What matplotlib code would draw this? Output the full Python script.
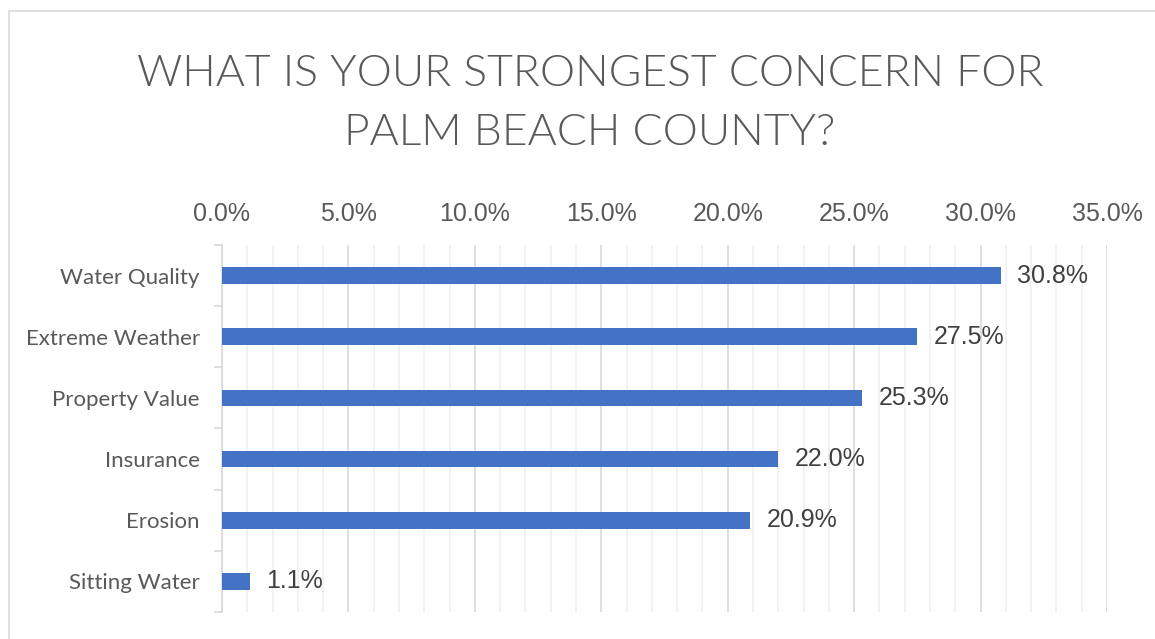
import numpy as np
import matplotlib
matplotlib.use("Agg")
import matplotlib.pyplot as plt
from matplotlib.patches import Rectangle
from matplotlib.ticker import MultipleLocator, FuncFormatter, FixedLocator

# ---- data (top to bottom as shown) ----
categories = ["Water Quality", "Extreme Weather", "Property Value",
              "Insurance", "Erosion", "Sitting Water"]
values = [30.8, 27.5, 25.3, 22.0, 20.9, 1.1]
title = "WHAT IS YOUR STRONGEST CONCERN FOR\nPALM BEACH COUNTY?"

BAR = "#4472C4"
TXT = "#595959"

fig = plt.figure(figsize=(11.55, 6.39), dpi=100)
ax = fig.add_axes([222 / 1155, 1 - 612 / 639, 885 / 1155, 367 / 639])

# outer chart border (runs off the right/bottom edge)
fig.patches.append(Rectangle((9 / 1155, -0.1), 1.2, 1 - 11 / 639 + 0.1,
                             transform=fig.transFigure, fill=False,
                             edgecolor="#d9d9d9", linewidth=1.2))

y = np.arange(len(categories))
ax.barh(y, values, height=0.27, color=BAR, zorder=3)
for yi, v in zip(y, values):
    ax.annotate(f"{v:.1f}%", (v, yi), xytext=(12, 0), textcoords="offset points",
                va="center", ha="left", fontsize=18, color="#404040",
                family="Liberation Sans")

ax.set_xlim(0, 35)
ax.set_ylim(len(categories) - 0.5, -0.5)

ax.xaxis.tick_top()
ax.xaxis.set_major_locator(MultipleLocator(5))
ax.xaxis.set_minor_locator(MultipleLocator(1))
ax.xaxis.set_major_formatter(FuncFormatter(lambda v, p: f"{v:.1f}%"))
ax.tick_params(axis="x", which="both", length=0, pad=14, labelsize=18,
               labelcolor=TXT)
for lab in ax.get_xticklabels():
    lab.set_family("Liberation Sans")
ax.grid(axis="x", which="major", color="#d9d9d9", linewidth=1.2, zorder=0)
ax.grid(axis="x", which="minor", color="#f0f0f0", linewidth=1.2, zorder=0)

ax.set_yticks(y)
ax.set_yticklabels(categories, fontsize=16, color=TXT, family="Lato")
ax.yaxis.set_minor_locator(FixedLocator(np.arange(len(categories) + 1) - 0.5))
ax.tick_params(axis="y", which="major", length=0, pad=16)
ax.tick_params(axis="y", which="minor", length=6, color="#d9d9d9", width=1.2)

for s in ["top", "right", "bottom"]:
    ax.spines[s].set_visible(False)
ax.spines["left"].set_color("#d9d9d9")
ax.spines["left"].set_linewidth(1.2)

fig.text(590 / 1155, 1 - 104 / 639, title, ha="center", va="center",
         fontsize=32, color=TXT, family="Lato", fontweight=300,
         linespacing=1.65)

fig.savefig("out.png", dpi=100, facecolor="white")
